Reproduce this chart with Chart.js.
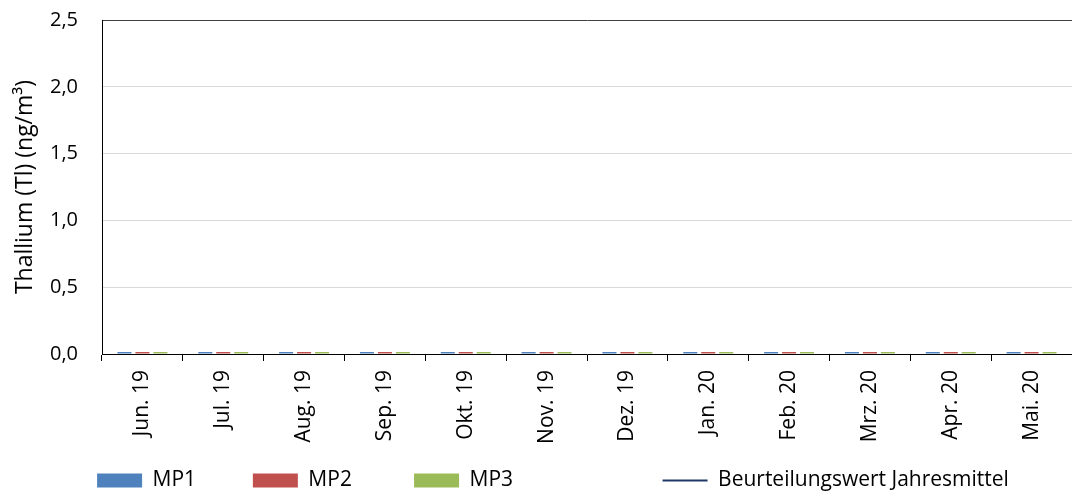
<!DOCTYPE html>
<html>
<head>
<meta charset="utf-8">
<title>Thallium</title>
<script src="https://cdn.jsdelivr.net/npm/chart.js@4.4.1/dist/chart.umd.min.js"></script>
<style>
    body { margin: 0; background: #ffffff; }
    #wrap { width: 1072px; height: 493px; position: relative; }
</style>
</head>
<body>
<div id="wrap"><canvas id="tlChart"></canvas></div>
<script>

let months = ["Jun. 19", "Jul. 19", "Aug. 19", "Sep. 19", "Okt. 19", "Nov. 19",
              "Dez. 19", "Jan. 20", "Feb. 20", "Mrz. 20", "Apr. 20", "Mai. 20"];

let mp1 = [0.015, 0.015, 0.015, 0.015, 0.015, 0.015, 0.015, 0.015, 0.015, 0.015, 0.015, 0.015];
let mp2 = [0.015, 0.015, 0.015, 0.015, 0.015, 0.015, 0.015, 0.015, 0.015, 0.015, 0.015, 0.015];
let mp3 = [0.015, 0.015, 0.015, 0.015, 0.015, 0.015, 0.015, 0.015, 0.015, 0.015, 0.015, 0.015];
let jahresmittel = []; // not visible inside the 0 - 2,5 range

let yTicks = [0, 0.5, 1, 1.5, 2, 2.5];

let font = "'Open Sans', 'Noto Sans', sans-serif";

// extra room after each legend entry (Excel spaces them unevenly)
let legendGap = { "MP1": 6, "MP2": 7, "MP3": 23 };

let tlChart = new Chart(document.getElementById("tlChart"), {
    type: "bar",
    data: {
        labels: months,
        datasets: [
            { label: "MP1", data: mp1, backgroundColor: "#4f81bd", pointStyle: "rect" },
            { label: "MP2", data: mp2, backgroundColor: "#c0504d", pointStyle: "rect" },
            { label: "MP3", data: mp3, backgroundColor: "#9bbb59", pointStyle: "rect" },
            {
                type: "line",
                label: "Beurteilungswert Jahresmittel",
                data: jahresmittel,
                borderColor: "#1f3864",
                backgroundColor: "#1f3864",
                borderWidth: 2,
                pointRadius: 0,
                pointStyle: "line"
            }
        ]
    },
    options: {
        responsive: true,
        maintainAspectRatio: false,
        animation: false,
        datasets: {
            bar: { barPercentage: 0.78, categoryPercentage: 0.667 }
        },
        layout: { padding: { left: 34, top: 20, right: 0, bottom: 0 } },
        scales: {
            x: {
                grid: {
                    offset: true,
                    drawOnChartArea: false,
                    drawTicks: true,
                    tickLength: 7,
                    color: "#000000"
                },
                border: { color: "#000000", width: 1 },
                ticks: {
                    autoSkip: false,
                    minRotation: 90,
                    maxRotation: 90,
                    padding: 9,
                    color: "#000000",
                    font: { family: font, size: 21 }
                },
                afterFit: function (scale) { scale.height = 92; }
            },
            y: {
                min: 0,
                max: 2.5,
                afterBuildTicks: function (scale) {
                    scale.ticks = yTicks.map(v => ({ value: v }));
                },
                grid: {
                    drawTicks: false,
                    color: function (c) {
                        if (c.tick.value === 2.5) return "#404040";
                        if (c.tick.value === 0) return "rgba(0,0,0,0)";
                        return "#d9d9d9";
                    }
                },
                border: { color: "#000000", width: 1 },
                ticks: {
                    padding: 24,
                    color: "#000000",
                    font: { family: font, size: 20 },
                    callback: function (v) { return v.toFixed(1).replace(".", ","); }
                },
                title: {
                    display: true,
                    text: "Thallium (Tl) (ng/m³)",
                    color: "#000000",
                    padding: { top: -22, bottom: 0 },
                    font: { family: font, size: 23 }
                },
                afterFit: function (scale) {
                    scale.width = 68;
                    scale.paddingTop = 0;
                    scale.paddingBottom = 0;
                }
            }
        },
        plugins: {
            tooltip: { enabled: false },
            legend: {
                position: "bottom",
                maxHeight: 47,
                labels: {
                    usePointStyle: true,
                    pointStyleWidth: 45,
                    boxHeight: 14,
                    padding: 24,
                    color: "#000000",
                    font: { family: font, size: 21 },
                    generateLabels: function (chart) {
                        let items = Chart.defaults.plugins.legend.labels.generateLabels(chart);
                        items.forEach(item => {
                            let n = legendGap[item.text] || 0;
                            item.text = item.text + "\u00a0".repeat(n);
                        });
                        return items;
                    }
                }
            }
        }
    }
});
</script>
</body>
</html>
